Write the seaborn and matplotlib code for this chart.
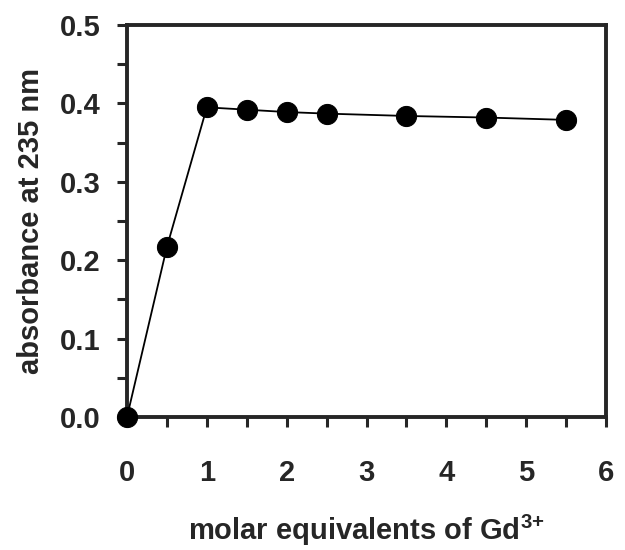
import matplotlib
matplotlib.use("Agg")
import matplotlib.pyplot as plt
import seaborn as sns
import pandas as pd
from matplotlib.ticker import MultipleLocator

equiv = [0, 0.5, 1, 1.5, 2, 2.5, 3.5, 4.5, 5.5]
absorb = [0.0, 0.217, 0.395, 0.392, 0.389, 0.387, 0.384, 0.382, 0.379]
xticks = [0, 1, 2, 3, 4, 5, 6]
yticks = [0.0, 0.1, 0.2, 0.3, 0.4, 0.5]

sns.set_style("ticks")
plt.rcParams['font.family'] = ['Liberation Sans', 'DejaVu Sans']
plt.rcParams['font.weight'] = 'bold'
plt.rcParams['mathtext.fontset'] = 'custom'
plt.rcParams['mathtext.rm'] = 'Liberation Sans:bold'
plt.rcParams['mathtext.bf'] = 'Liberation Sans:bold'

df = pd.DataFrame({"x": equiv, "y": absorb})
fig = plt.figure(figsize=(6.25, 5.5), dpi=100)
ax = fig.add_axes([0.2032, 0.2418, 0.7664, 0.7127])
sns.lineplot(data=df, x="x", y="y", ax=ax, color="black", linewidth=1.3,
             marker="o", markersize=14.5, markeredgecolor="black",
             markerfacecolor="black", clip_on=False, zorder=5)
ax.set_xlim(0, 6)
ax.set_ylim(0, 0.5)
ax.set_xticks(xticks)
ax.set_yticks(yticks)
ax.set_xticklabels([str(t) for t in xticks])
ax.set_yticklabels([f"{t:.1f}" for t in yticks])
ax.xaxis.set_minor_locator(MultipleLocator(0.5))
ax.yaxis.set_minor_locator(MultipleLocator(0.05))
ax.tick_params(which='both', direction='out', width=2.2, length=7, labelsize=21,
               top=False, right=False)
ax.tick_params(axis='y', pad=12)
ax.tick_params(axis='x', pad=23)
for s in ax.spines.values():
    s.set_linewidth(2.8)
    s.set_visible(True)
ax.set_xlabel(r"molar equivalents of Gd$^{\mathbf{3{+}}}$", fontsize=21, fontweight='bold', labelpad=19)
ax.set_ylabel("absorbance at 235 nm", fontsize=21, fontweight='bold', labelpad=11)
fig.savefig("out.png", dpi=100)
